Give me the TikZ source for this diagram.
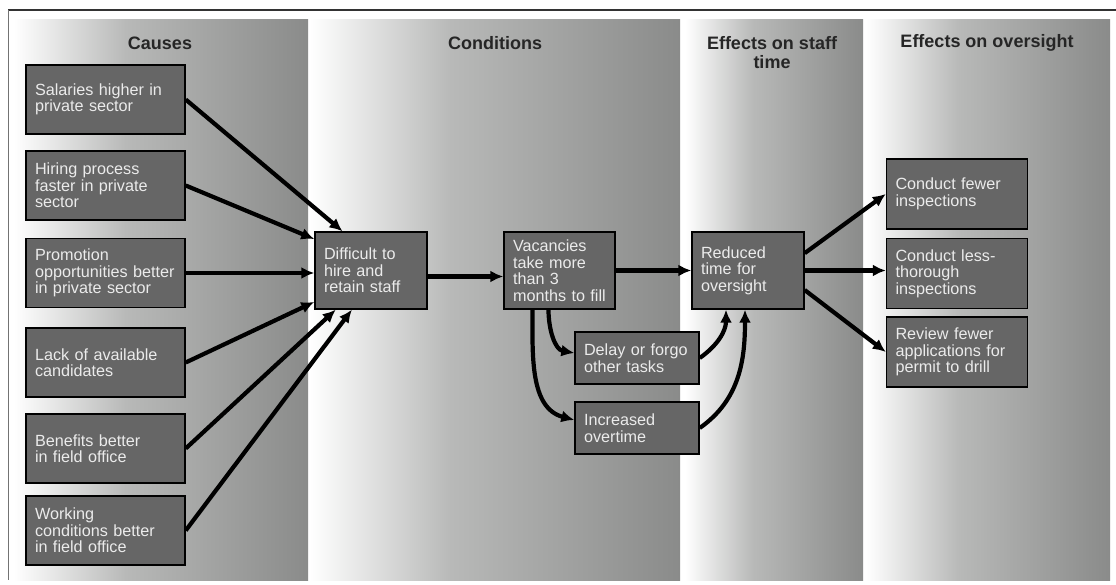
\documentclass[tikz,border=0pt]{standalone}
\usepackage{fontspec}
\setmainfont{Liberation Sans}
\usetikzlibrary{arrows.meta}
\definecolor{boxgray}{HTML}{666666}
\definecolor{boxtext}{HTML}{EBEBEB}
\definecolor{pnlmid}{HTML}{B8B9B8}
\definecolor{pnldark}{HTML}{8A8B8A}
\definecolor{headtext}{HTML}{262626}
\pgfdeclarehorizontalshading{panelshade}{100bp}{color(0bp)=(white); color(25bp)=(white); color(44bp)=(pnlmid); color(75bp)=(pnldark); color(100bp)=(pnldark)}
\tikzset{
  panel/.style={shading=panelshade},
  head/.style={font=\bfseries\fontsize{18}{19}\selectfont, text=headtext, align=center},
  box/.style={draw=black, line width=1.4pt, fill=boxgray, text=boxtext, align=left, inner xsep=9pt, inner ysep=0pt, font=\fontsize{16.2}{16.5}\selectfont},
  cause/.style={box, minimum width=159pt, minimum height=69pt, text width=141pt},
  cond/.style={box, minimum width=112pt, minimum height=77pt, text width=94pt},
  side/.style={box, minimum width=124pt, minimum height=52pt, text width=106pt},
  effect/.style={box, minimum width=141pt, minimum height=70pt, text width=123pt},
  link/.style={line width=4.2pt, -{Latex[length=13pt,width=12pt]}}
}
\begin{document}
\begin{tikzpicture}[x=1pt,y=1pt]
\useasboundingbox (0,0) rectangle (1116,-585);
\draw[line width=2pt, black!80] (8,-10) -- (1116,-10);
\draw[line width=1pt, black!55] (8,-10) -- (8,-580);
\fill[panel] (14,-20) rectangle (308,-580);
\fill[panel] (310,-20) rectangle (680,-580);
\fill[panel] (685,-20) rectangle (863,-580);
\fill[panel] (866,-20) rectangle (1110,-580);
\node[head] (hcau) at (160,-43) {Causes};
\node[head] (hcon) at (495,-43) {Conditions};
\node[head] (hsta) at (772,-53) {Effects on staff\\time};
\node[head] (hove) at (987,-43) {Effects on oversight};
\node[cause] (sal) at (105.5,-99.5) {Salaries higher in\\private sector};
\node[cause] (hir) at (105.5,-185.5) {Hiring process\\faster in private\\sector};
\node[cause] (pro) at (105.5,-273) {Promotion\\opportunities better\\in private sector};
\node[cause] (lac) at (105.5,-362.5) {Lack of available\\candidates};
\node[cause] (ben) at (105.5,-448.5) {Benefits better\\in field office};
\node[cause] (wor) at (105.5,-530.5) {Working\\conditions better\\in field office};
\node[cond] (dif) at (371,-270.5) {Difficult to\\hire and\\retain staff};
\node[cond, minimum width=111pt, text width=93pt] (vac) at (559.5,-270.5) {Vacancies\\take more\\than 3\\months to fill};
\node[cond] (red) at (748,-270.5) {Reduced\\time for\\oversight};
\node[side] (del) at (637,-358) {Delay or forgo\\other tasks};
\node[side] (inc) at (637,-428) {Increased\\overtime};
\node[effect] (few) at (957,-194) {Conduct fewer\\inspections};
\node[effect] (les) at (957,-273.5) {Conduct less-\\thorough\\inspections};
\node[effect] (rev) at (957,-352) {Review fewer\\applications for\\permit to drill};
\draw[link] (sal.east) -- (dif.126);
\draw[link] (hir.east) -- (dif.151);
\draw[link] (pro.east) -- (pro.east -| dif.west);
\draw[link] (lac.east) -- (dif.209);
\draw[link] (ben.east) -- (dif.228);
\draw[link] (wor.east) -- (dif.244);
\draw[link] ([yshift=-6pt]dif.east) -- ([yshift=-6pt]vac.west);
\draw[link] (vac.east) -- (red.west);
\draw[link] ([xshift=-11pt]vac.south) to[out=-90,in=170] ([yshift=5pt]del.west);
\draw[link] ([xshift=-27pt]vac.south) to[out=-90,in=165] ([yshift=8pt]inc.west);
\draw[link] (del.east) to[out=35,in=-90] ([xshift=-22pt]red.south);
\draw[link] (inc.east) to[out=35,in=-90] ([xshift=-3pt]red.south);
\draw[link] (red.17) -- (few.west);
\draw[link] (red.east) -- (red.east -| les.west);
\draw[link] (red.-19) -- (rev.west);
\end{tikzpicture}
\end{document}
